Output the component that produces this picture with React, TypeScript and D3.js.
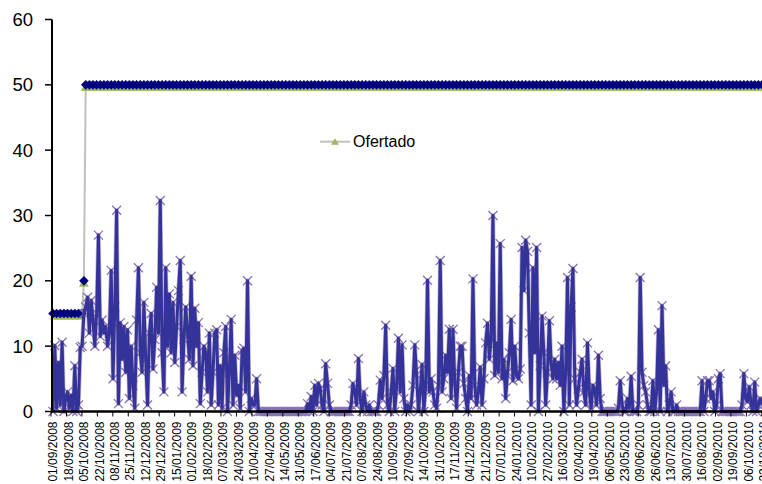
import React from "react";
import * as d3 from "d3";

// Measured flow, one reading every two days starting 01/09/2008
const SERIES_START = "2008-09-01";
const STEP_DAYS = 2;
const measuredFlow: number[] = [
  0, 10.1, 0.5, 7.5, 1, 10.6, 0, 2, 3, 0.5,
  2.5, 0, 7, 0, 1, 9.8, 10, 15, 16, 17.5,
  12, 17, 14, 10, 15, 27, 11.5, 14, 12, 13,
  10, 12, 21.6, 5, 16, 30.8, 1.2, 13.6, 8, 13,
  6, 12.5, 2, 10, 4, 0.5, 14, 22, 9, 6,
  16.7, 8, 1, 12, 15, 6.5, 11, 19, 12, 32.3,
  9, 3, 22, 10, 18, 9, 16.7, 7.5, 13, 18.5,
  23.1, 3, 11, 16, 12, 8, 20.7, 7, 15.8, 10,
  13.6, 1.2, 6, 10, 9, 3, 12, 1, 6, 12,
  12.5, 1, 7, 0.5, 9, 13, 0, 6, 14.1, 1,
  8.6, 2.5, 4, 0.5, 9.3, 9.7, 3, 20, 0, 2,
  1, 1, 5, 0,
  0, 0, 0, 0, 0, 0, 0, 0, 0, 0, 0, 0, 0,
  0, 0, 0, 0, 0, 0, 0, 0, 0, 0, 0, 0, 0,
  1.2, 0, 2.3, 0, 4, 1, 4.3, 3.5, 1, 0, 7.3,
  4.3, 1, 0, 0, 0, 0, 0, 0, 0, 0,
  0, 0, 0, 1, 4.3, 3, 1, 8.1, 2, 0,
  3, 1, 0, 1, 0, 0, 0, 0, 1, 4.8,
  2, 5.5, 13.2, 1, 0, 3, 6.6, 0, 4, 11.2,
  3, 10.2, 2, 0, 1, 0, 1, 4, 10.2, 5.6,
  0, 3, 7.2, 0, 4, 20.1, 3, 5, 3, 1,
  0.5, 4, 23.1, 3, 5, 8.6, 6, 12.6, 2, 12.6,
  4.3, 0.5, 6, 10, 10, 4.3, 2, 0, 5.5, 2,
  20.3, 4, 1, 3, 6.8, 1, 5, 10.5, 13.5, 8,
  11, 30, 5.5, 10.5, 6, 25.7, 5, 8, 2, 6,
  9, 14.1, 4.7, 10, 5.5, 5, 6.5, 25.1, 18.5, 26.2,
  24.5, 12, 1, 22, 9, 25.1, 0, 7, 14.6, 9,
  1, 6, 13.9, 7.5, 5, 8, 5, 7.5, 4, 10,
  0, 6, 20.5, 1, 16, 21.9, 5, 1, 3.5, 6,
  8, 3, 1, 10.5, 3, 0.5, 4, 3.5, 1, 8.6,
  2,
  0, 0, 0, 0, 0, 0, 0, 0, 0,
  0.5,
  4.7, 1, 0, 0, 2, 0.5, 5.4, 0, 0, 0,
  1, 20.5, 6, 4, 3, 1, 0, 0, 4.7, 0,
  3, 12.5, 0, 16.2, 4, 7, 0, 1, 3, 0,
  0, 1, 0, 0, 0, 0, 0, 0, 0, 0,
  0, 0, 0, 0, 0, 4.7, 0, 2, 4.7, 4.7,
  2, 3, 0, 1, 5, 5.8, 0, 0, 0, 0,
  0, 0, 0, 0, 0, 0, 0, 1, 5.8, 2,
  1.5, 3.8, 1, 0, 4.5, 0, 1, 2, 1,
];

// "Ofertado" level, as step changes
const offerStepDates = ["2008-09-01", "2008-10-05", "2008-10-07"];
const offerStepValues = [15, 20, 50];

// Contracted level, as step changes
const contractStepDates = ["2008-09-01", "2008-10-05", "2008-10-07"];
const contractStepValues = [15, 20, 50];

const yTicks = [0, 10, 20, 30, 40, 50, 60];

const dateLabels = [
  "01/09/2008", "18/09/2008", "05/10/2008", "22/10/2008", "08/11/2008", "25/11/2008",
  "12/12/2008", "29/12/2008", "15/01/2009", "01/02/2009", "18/02/2009", "07/03/2009",
  "24/03/2009", "10/04/2009", "27/04/2009", "14/05/2009", "31/05/2009", "17/06/2009",
  "04/07/2009", "21/07/2009", "07/08/2009", "24/08/2009", "10/09/2009", "27/09/2009",
  "14/10/2009", "31/10/2009", "17/11/2009", "04/12/2009", "21/12/2009", "07/01/2010",
  "24/01/2010", "10/02/2010", "27/02/2010", "16/03/2010", "02/04/2010", "19/04/2010",
  "06/05/2010", "23/05/2010", "09/06/2010", "26/06/2010", "13/07/2010", "30/07/2010",
  "16/08/2010", "02/09/2010", "19/09/2010", "06/10/2010", "23/10/2010",
];

const legendLabel = "Ofertado";

const FONT = "'Liberation Sans', Arial, Helvetica, sans-serif";

const parseIso = d3.utcParse("%Y-%m-%d");
const parseLabel = d3.utcParse("%d/%m/%Y");

function stepValueAt(date: Date, dates: string[], values: number[]): number {
  let v = values[0];
  dates.forEach((s, k) => {
    if (+parseIso(s)! <= +date) v = values[k];
  });
  return v;
}

export default function App() {
  const width = 762;
  const height = 484;
  const axisX = 52;
  const axisY = 411.5;

  const start = parseIso(SERIES_START)!;
  const firstLabel = parseLabel(dateLabels[0])!;
  const lastLabel = parseLabel(dateLabels[dateLabels.length - 1])!;
  const pxPerDay = 0.909;
  const spanDays = d3.utcDay.count(firstLabel, lastLabel);

  const x = d3
    .scaleUtc()
    .domain([firstLabel, lastLabel])
    .range([53, 53 + pxPerDay * spanDays]);
  const y = d3.scaleLinear().domain([0, 60]).range([axisY, 19.5]);

  const dates = measuredFlow.map((_, i) => d3.utcDay.offset(start, i * STEP_DAYS));
  const flow = measuredFlow.map((v, i) => ({ date: dates[i], value: v }));
  const offer = dates.map((d) => ({ date: d, value: stepValueAt(d, offerStepDates, offerStepValues) }));
  const contract = dates.map((d) => ({ date: d, value: stepValueAt(d, contractStepDates, contractStepValues) }));

  const line = d3
    .line<{ date: Date; value: number }>()
    .x((d) => x(d.date))
    .y((d) => y(d.value));

  const showMarker = (arr: { value: number }[], i: number, every: number, phase: number) =>
    i % every === phase || (i > 0 && arr[i].value !== arr[i - 1].value);

  const triangle = "M0,-3.5L4.8,6L-4.8,6Z";
  const diamond = "M0,-4.8L4.8,0L0,4.8L-4.8,0Z";
  const cross = "M-4.5,-4.5L4.5,4.5M-4.5,4.5L4.5,-4.5";

  return (
    <div style={{ position: "absolute", left: 0, top: 0, width, height, background: "#fff" }}>
      <svg width={width} height={height} style={{ display: "block" }} fontFamily={FONT}>
        <rect x={0} y={0} width={width} height={height} fill="#fff" />

        {/* Offered level */}
        <path d={line(offer) ?? ""} fill="none" stroke="#c0c0c0" strokeWidth={2} />
        {offer.map((d, i) =>
          showMarker(offer, i, 2, 1) ? (
            <path key={`t${i}`} d={triangle} transform={`translate(${x(d.date)},${y(d.value)})`} fill="#9bbb59" />
          ) : null
        )}

        {/* Contracted level */}
        {contract.map((d, i) =>
          showMarker(contract, i, 2, 0) ? (
            <path key={`c${i}`} d={diamond} transform={`translate(${x(d.date)},${y(d.value)})`} fill="#000080" />
          ) : null
        )}

        {/* Measured flow */}
        <g>
          {flow.map((d, i) => (
            <path
              key={`x${i}`}
              d={cross}
              transform={`translate(${x(d.date)},${y(d.value)})`}
              stroke="#8873b3"
              strokeWidth={1.3}
              fill="none"
            />
          ))}
        </g>
        <path d={line(flow) ?? ""} fill="none" stroke="#8064a2" strokeOpacity={0.45} strokeWidth={4.5} strokeLinejoin="round" />
        <path d={line(flow) ?? ""} fill="none" stroke="#333399" strokeWidth={3} strokeLinejoin="round" />

        {/* Y axis */}
        <line x1={axisX} x2={axisX} y1={y(60)} y2={axisY} stroke="#000" strokeWidth={2} />
        {yTicks.map((t) => (
          <g key={`y${t}`}>
            <line x1={45} x2={axisX} y1={y(t)} y2={y(t)} stroke="#000" strokeWidth={1.5} />
            <text x={33} y={y(t)} dy="0.35em" textAnchor="end" fontSize={18.5} fill="#000">
              {t}
            </text>
          </g>
        ))}

        {/* X axis */}
        <line x1={axisX - 1} x2={width} y1={axisY} y2={axisY} stroke="#000" strokeWidth={2.5} />
        {dateLabels.map((s) => {
          const xp = x(parseLabel(s)!);
          return (
            <g key={s}>
              <line x1={xp - 2} x2={xp - 2} y1={axisY} y2={axisY + 5} stroke="#000" strokeWidth={1} />
              <text
                transform={`translate(${xp},${axisY + 10}) rotate(-90)`}
                dy="0.35em"
                textAnchor="end"
                fontSize={12}
                fill="#000"
              >
                {s}
              </text>
            </g>
          );
        })}

        {/* Legend */}
        <g>
          <line x1={320} x2={350} y1={141.7} y2={141.7} stroke="#c0c0c0" strokeWidth={2} />
          <path d="M0,-3.5L4,3L-4,3Z" transform="translate(335,141.7)" fill="#9bbb59" />
          <text x={353} y={147.3} fontSize={16} fill="#000">
            {legendLabel}
          </text>
        </g>
      </svg>
    </div>
  );
}
